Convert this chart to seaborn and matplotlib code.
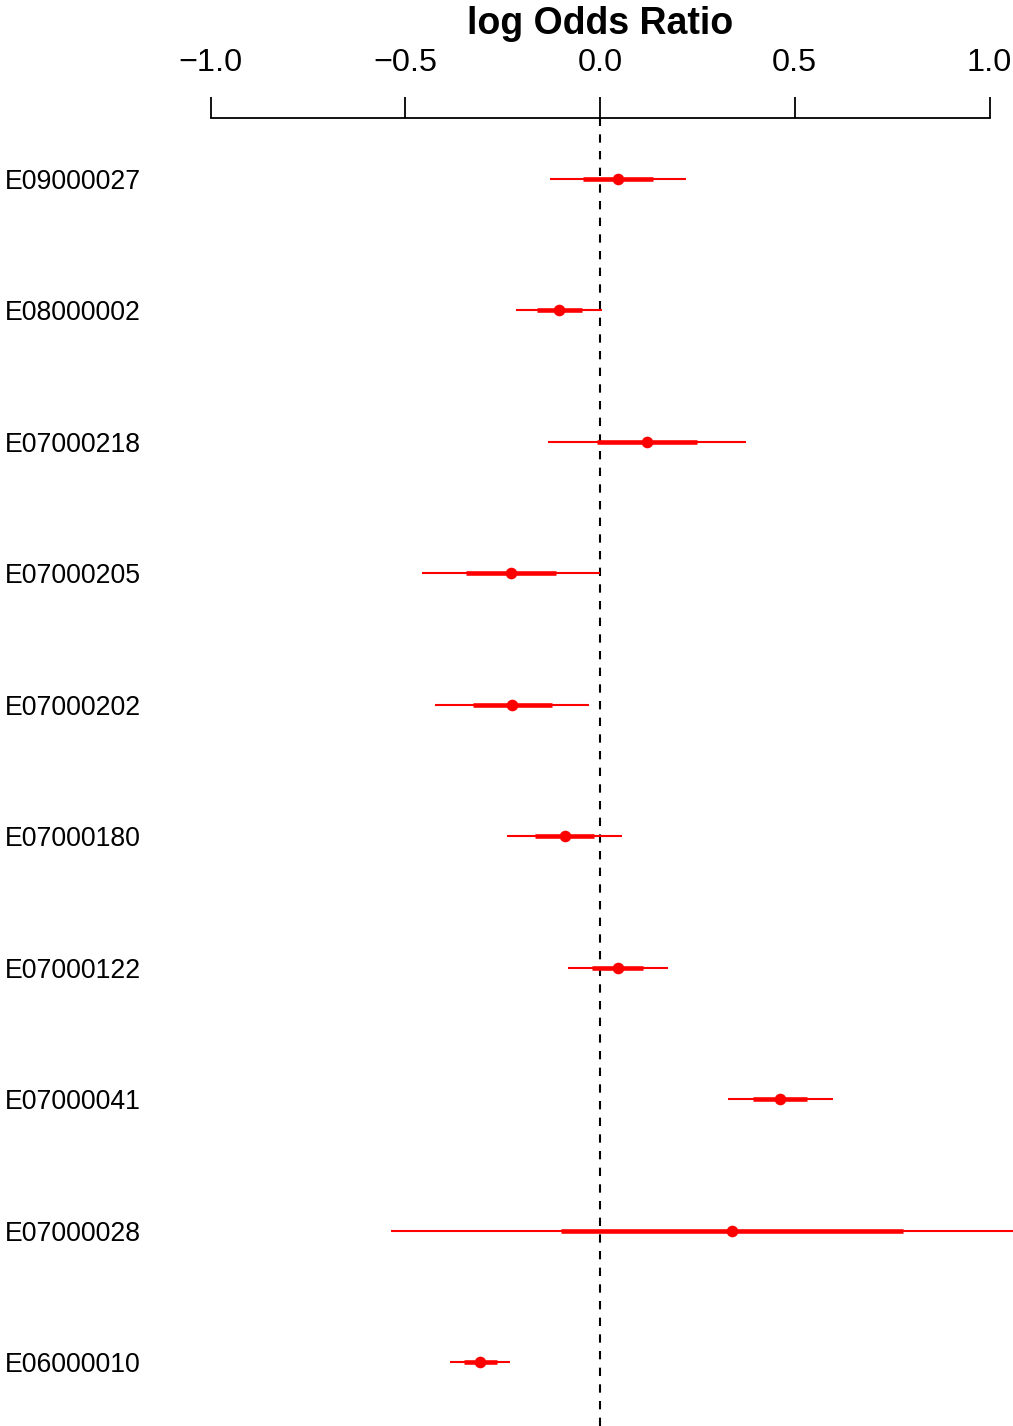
import matplotlib
matplotlib.use("Agg")
import matplotlib.pyplot as plt
import matplotlib.transforms as mtransforms
import seaborn as sns
import pandas as pd

labels = ["E09000027", "E08000002", "E07000218", "E07000205", "E07000202",
          "E07000180", "E07000122", "E07000041", "E07000028", "E06000010"]
est = [0.045, -0.104, 0.120, -0.228, -0.225, -0.090, 0.045, 0.462, 0.340, -0.308]
lo95 = [-0.128, -0.216, -0.134, -0.456, -0.424, -0.238, -0.081, 0.328, -0.536, -0.385]
hi95 = [0.220, 0.006, 0.375, 0.000, -0.028, 0.057, 0.174, 0.597, 1.216, -0.230]
lo50 = [-0.043, -0.163, -0.008, -0.344, -0.327, -0.167, -0.020, 0.392, -0.101, -0.349]
hi50 = [0.135, -0.047, 0.250, -0.113, -0.124, -0.015, 0.111, 0.532, 0.778, -0.264]
xticks = [-1.0, -0.5, 0.0, 0.5, 1.0]
xticklabels = ["\u22121.0", "\u22120.5", "0.0", "0.5", "1.0"]

df = pd.DataFrame({"label": labels, "est": est, "lo95": lo95, "hi95": hi95,
                   "lo50": lo50, "hi50": hi50})
df["row"] = range(len(df))

sns.set_theme(style="white")
plt.rcParams["font.family"] = ["Liberation Sans", "DejaVu Sans"]
plt.rcParams["text.color"] = "black"
plt.rcParams["xtick.color"] = "black"

W, H = 1013, 1426
fig = plt.figure(figsize=(W / 100, H / 100), dpi=100)
ax_top_px = 118
ax = fig.add_axes([0, 0, 1, 1 - ax_top_px / H])

red = "#FF0000"
ax.hlines(df["row"], df["lo95"], df["hi95"], color=red, lw=1.5, zorder=2)
ax.hlines(df["row"], df["lo50"], df["hi50"], color=red, lw=3.3, zorder=3)
sns.scatterplot(data=df, x="est", y="row", ax=ax, color=red, s=70,
                edgecolor=red, linewidth=0, zorder=4, legend=False)
ax.axvline(0, color="black", lw=1.5, ls=(0, (4, 4)), zorder=1)

# x scale: 0 at px 600, 389.5 px per unit
scale = 389.5
ax.set_xlim(-600 / scale, (W - 600) / scale)
row_px = 131.4
ax.set_ylim(len(df) - 1 + (H - 1362) / row_px, -(179 - ax_top_px) / row_px)

for s in ["left", "right", "bottom"]:
    ax.spines[s].set_visible(False)
ax.spines["top"].set_bounds(-1, 1)
ax.spines["top"].set_linewidth(1.3)
ax.spines["top"].set_color("black")
ax.xaxis.set_ticks_position("top")
ax.xaxis.set_label_position("top")
ax.set_xticks(xticks)
ax.set_xticklabels(xticklabels, fontsize=23.3, color="black")
ax.tick_params(axis="x", direction="out", length=15, width=1.3, pad=14,
               colors="black", top=True, bottom=False)
ax.set_yticks([])
ax.set_xlabel("")
ax.set_ylabel("")

trans = mtransforms.blended_transform_factory(fig.transFigure, ax.transData)
for r, lab in zip(df["row"], df["label"]):
    ax.text(5 / W, r, lab, transform=trans, ha="left", va="center_baseline",
            fontsize=19.2, color="black")

fig.text(600 / W, 1 - 24 / H, "log Odds Ratio", ha="center", va="center",
         fontsize=27, fontweight="bold", color="black")

fig.savefig("out.png", dpi=100, facecolor="white")
